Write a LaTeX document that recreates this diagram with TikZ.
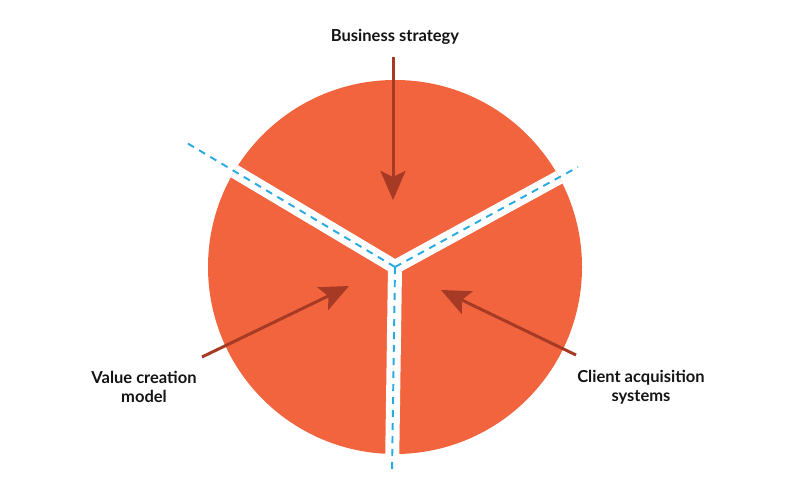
\documentclass[tikz,border=0pt]{standalone}
\usepackage{fontspec}
\setmainfont{Lato}
\usetikzlibrary{arrows.meta}

\definecolor{pieorange}{RGB}{241,100,61}
\definecolor{arrowbrown}{RGB}{166,58,36}
\definecolor{cutblue}{RGB}{41,170,225}
\definecolor{labelblack}{RGB}{20,20,20}

\begin{document}
\begin{tikzpicture}[x=0.02cm,y=0.02cm,
  pie/.style={fill=pieorange},
  gap/.style={draw=white,line width=8pt,line cap=round},
  cut/.style={draw=cutblue,line width=1.1pt,dash pattern=on 4pt off 3.4pt},
  pointer/.style={draw=arrowbrown,line width=1.7pt,
    -{Stealth[length=5.8mm,width=5mm,inset=1.2mm]}},
  caption/.style={font=\bfseries\fontsize{9.4}{10.8}\selectfont,
    text=labelblack,align=center}]
    \useasboundingbox (0,0) rectangle (800,500);
    % Centre and ends of the cuts
    \coordinate (centre) at (395,233);
    \coordinate (cutleft) at (187,357);
    \coordinate (cutright) at (578,333);
    \coordinate (cutdown) at (392,28);
    % Pie and its gaps
    \fill[pie] (centre) circle (187);
    \begin{scope}
      \clip (centre) circle (187);
      \draw[gap] (centre) -- (cutleft);
      \draw[gap] (centre) -- (cutright);
      \draw[gap] (centre) -- (cutdown);
    \end{scope}
    \draw[cut] (centre) -- (cutleft);
    \draw[cut] (centre) -- (cutright);
    \draw[cut] (centre) -- (cutdown);
    % Labels
    \node[caption] (strategy) at (395,463) {Business strategy};
    \node[caption] (value) at (144,113) {Value creation\\model};
    \node[caption] (client) at (641,113) {Client acquisition\\systems};
    % Arrows
    \coordinate (strategytail) at (393,443);
    \coordinate (strategytip) at (393,300);
    \coordinate (valuetail) at (202,143);
    \coordinate (valuetip) at (349,214);
    \coordinate (clienttail) at (576,145);
    \coordinate (clienttip) at (441,210);
    \draw[pointer] (strategytail) -- (strategytip);
    \draw[pointer] (valuetail) -- (valuetip);
    \draw[pointer] (clienttail) -- (clienttip);
\end{tikzpicture}
\end{document}
